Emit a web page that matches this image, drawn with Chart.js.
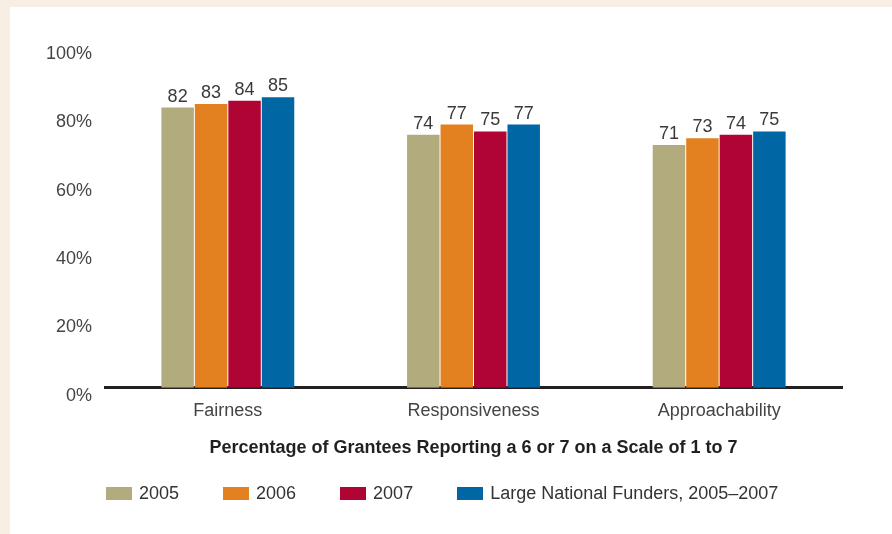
<!DOCTYPE html>
<html>
<head>
  <meta charset="UTF-8">
  <title>Grantee Perceptions</title>
  <script src="https://cdn.jsdelivr.net/npm/chart.js"></script>
  <style>
    html, body {
      margin: 0;
      padding: 0;
      background: #f8eee4;
      font-family: "Liberation Sans", Arial, sans-serif;
    }
    #frame {
      position: absolute;
      left: 10px;
      top: 7px;
      width: 882px;
      height: 527px;
      background: #fff;
    }
    #chart {
      position: absolute;
      left: 0;
      top: 0;
    }
    #legend {
      position: absolute;
      left: 96px;
      top: 476px;
      display: flex;
      align-items: center;
      font-size: 18px;
      color: #333;
      white-space: nowrap;
    }
    .item {
      display: flex;
      align-items: center;
      margin-right: 44px;
    }
    .swatch {
      width: 26px;
      height: 13px;
      margin-right: 7px;
    }
  </style>
</head>
<body>
  <div id="frame">
    <canvas id="chart" width="882" height="527"></canvas>
    <div id="legend"></div>
  </div>

  <script>
    const categories = ['Fairness', 'Responsiveness', 'Approachability'];
    const seriesNames = ['2005', '2006', '2007', 'Large National Funders, 2005\u20132007'];
    const values2005 = [82, 74, 71];
    const values2006 = [83, 77, 73];
    const values2007 = [84, 75, 74];
    const valuesLarge = [85, 77, 75];
    const yTicks = [0, 20, 40, 60, 80, 100];
    const colors = ['#b1ab7e', '#e3801f', '#b00434', '#0066a4'];

    const allValues = [values2005, values2006, values2007, valuesLarge];

    // numbers above each bar
    const valueLabels = {
      id: 'valueLabels',
      afterDatasetsDraw(chart) {
        const ctx = chart.ctx;
        ctx.save();
        ctx.font = '18px "Liberation Sans", Arial, sans-serif';
        ctx.fillStyle = '#3a3a3a';
        ctx.textAlign = 'center';
        ctx.textBaseline = 'alphabetic';
        chart.data.datasets.forEach((ds, i) => {
          chart.getDatasetMeta(i).data.forEach((bar, j) => {
            ctx.fillText(ds.data[j], bar.x, bar.y - 6);
          });
        });
        ctx.restore();
      }
    };

    new Chart(document.getElementById('chart'), {
      type: 'bar',
      data: {
        labels: categories,
        datasets: seriesNames.map((name, i) => ({
          label: name,
          data: allValues[i],
          backgroundColor: colors[i],
          borderWidth: 0,
          barPercentage: 0.97,
          categoryPercentage: 0.545
        }))
      },
      options: {
        responsive: false,
        animation: false,
        layout: {
          padding: { top: 39, right: 50, bottom: 75, left: 0 }
        },
        plugins: {
          legend: { display: false },
          tooltip: { enabled: false }
        },
        scales: {
          x: {
            grid: { display: false, drawTicks: false },
            border: { display: true, color: '#231f20', width: 3 },
            ticks: {
              padding: 12,
              color: '#444',
              font: { family: '"Liberation Sans", Arial, sans-serif', size: 18 }
            },
            title: {
              display: true,
              text: 'Percentage of Grantees Reporting a 6 or 7 on a Scale of 1 to 7',
              color: '#231f20',
              padding: { top: 4, bottom: 0 },
              font: { family: '"Liberation Sans", Arial, sans-serif', size: 18, weight: 'bold' }
            }
          },
          y: {
            min: 0,
            max: 100,
            afterFit: s => { s.width = 95; },
            afterBuildTicks: s => { s.ticks = yTicks.map(v => ({ value: v })); },
            grid: { display: false, drawTicks: false },
            border: { display: false },
            ticks: {
              padding: 13,
              labelOffset: 8,
              color: '#444',
              font: { family: '"Liberation Sans", Arial, sans-serif', size: 18 },
              callback: v => v + '%'
            }
          }
        }
      },
      plugins: [valueLabels]
    });

    const legend = document.getElementById('legend');
    seriesNames.forEach((name, i) => {
      const item = document.createElement('div');
      item.className = 'item';
      const sw = document.createElement('span');
      sw.className = 'swatch';
      sw.style.background = colors[i];
      const txt = document.createElement('span');
      txt.textContent = name;
      item.appendChild(sw);
      item.appendChild(txt);
      legend.appendChild(item);
    });
  </script>
</body>
</html>
